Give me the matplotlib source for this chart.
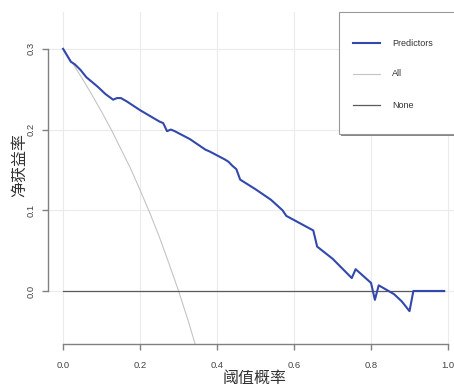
import matplotlib
matplotlib.use("Agg")
import matplotlib.pyplot as plt
from matplotlib.lines import Line2D
from matplotlib.patches import Rectangle

plt.rcParams['font.family'] = ['Liberation Sans Narrow', 'Liberation Sans', 'DejaVu Sans']

# threshold probabilities and net benefit
pred_x = [0, 0.02, 0.03, 0.045, 0.06, 0.09, 0.11, 0.13, 0.14, 0.15, 0.165, 0.20,
          0.25, 0.26, 0.27, 0.28, 0.29, 0.33, 0.37, 0.38, 0.42, 0.43, 0.44, 0.45,
          0.46, 0.50, 0.54, 0.57, 0.58, 0.65, 0.66, 0.70, 0.75, 0.76, 0.80, 0.81,
          0.82, 0.86, 0.88, 0.90, 0.91, 0.99]
pred_y = [0.300, 0.284, 0.281, 0.274, 0.265, 0.253, 0.244, 0.237, 0.239, 0.239, 0.235, 0.224,
          0.210, 0.208, 0.198, 0.200, 0.198, 0.188, 0.175, 0.173, 0.163, 0.160, 0.155, 0.151,
          0.138, 0.126, 0.113, 0.100, 0.093, 0.075, 0.055, 0.040, 0.016, 0.027, 0.010, -0.011,
          0.007, -0.004, -0.013, -0.025, 0.0, 0.0]

all_x = [0, 0.025, 0.05, 0.075, 0.10, 0.125, 0.15, 0.175, 0.20, 0.225, 0.25, 0.275,
         0.30, 0.325, 0.35]
all_y = [0.300, 0.282, 0.263, 0.243, 0.222, 0.200, 0.176, 0.152, 0.125, 0.097, 0.067, 0.034,
         0.0, -0.037, -0.077]

none_x = [0, 0.99]
none_y = [0, 0]

legend_labels = ['Predictors', 'All', 'None']
colors = ['#3248ac', '#c4c4c4', '#5a5a5a']

fig = plt.figure(figsize=(4.54, 3.87), dpi=100)
ax = fig.add_axes([0.1051, 0.1111, 0.9156, 0.858])

ax.plot(all_x, all_y, color=colors[1], lw=0.8, zorder=2)
ax.plot(none_x, none_y, color=colors[2], lw=0.9, zorder=3)
ax.plot(pred_x, pred_y, color=colors[0], lw=1.5, zorder=4)

ax.set_xlim(-0.04, 1.04)
ax.set_ylim(-0.0657, 0.3457)
ax.set_xticks([0, 0.2, 0.4, 0.6, 0.8, 1.0])
ax.set_yticks([0, 0.1, 0.2, 0.3])
ax.set_xticklabels(['0.0', '0.2', '0.4', '0.6', '0.8', '1.0'])
ax.set_yticklabels(['0.0', '0.1', '0.2', '0.3'], rotation=90, va='center')
ax.grid(True, color='#ebebeb', lw=0.8)
ax.set_axisbelow(True)

for s in ['top', 'right']:
    ax.spines[s].set_visible(False)
ax.spines['left'].set_bounds(0, 0.3)
ax.spines['bottom'].set_bounds(0, 1.0)
for s in ['left', 'bottom']:
    ax.spines[s].set_color('#808080')
    ax.spines[s].set_linewidth(1.0)
ax.tick_params(axis='x', length=4, width=1.0, color='#808080', labelsize=6.8,
               labelcolor='#444444', pad=8)
ax.tick_params(axis='y', length=4, width=1.0, color='#808080', labelsize=6.8,
               labelcolor='#444444', pad=5)

cjk = ['Noto Sans CJK SC', 'DejaVu Sans']
fig.text(255 / 454, 1 - 378 / 387, '阈值概率', family=cjk, fontsize=11.5,
         color='#333333', ha='center', va='center')
fig.text(20 / 454, 1 - 165 / 387, '净获益率', family=cjk, fontsize=11.5,
         color='#333333', ha='center', va='center', rotation=90)

# legend box drawn in figure pixels
W, H = 454.0, 387.0
fig.patches.append(Rectangle((341 / W, 1 - 136 / H), 120 / W, 122 / H, transform=fig.transFigure,
                             facecolor='#888888', edgecolor='none', zorder=5))
fig.patches.append(Rectangle((339 / W, 1 - 134 / H), 120 / W, 122 / H, transform=fig.transFigure,
                             facecolor='white', edgecolor='#999999', lw=0.8, zorder=6))
rows = [43, 74, 105]
lws = [1.5, 0.8, 0.9]
for lab, c, lw, r in zip(legend_labels, colors, lws, rows):
    fig.lines.append(Line2D([353 / W, 380 / W], [1 - r / H, 1 - r / H], transform=fig.transFigure,
                            color=c, lw=lw, zorder=7))
    fig.text(392 / W, 1 - r / H, lab, fontsize=6.5, color='#333333', va='center', zorder=7)

fig.savefig('out.png', dpi=100)
